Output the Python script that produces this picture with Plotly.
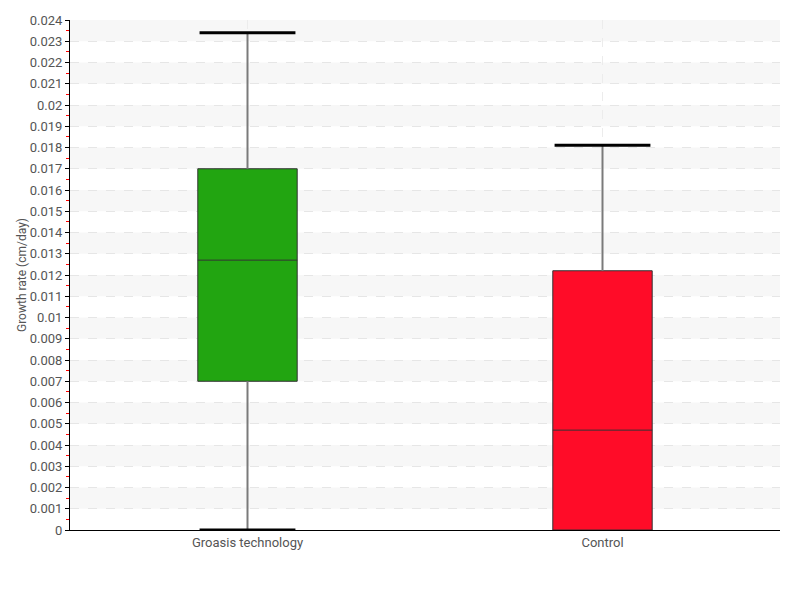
import plotly.graph_objects as go

categories = ["Groasis technology", "Control"]
mins = [0.0, 0.0]
q1s = [0.0070, 0.0]
medians = [0.0127, 0.0047]
q3s = [0.0170, 0.0122]
maxs = [0.0234, 0.0181]
colors = ["#22a511", "#ff0c28"]
y_ticks = [round(i * 0.001, 3) for i in range(25)]
y_ticktext = [("%g" % v) for v in y_ticks]

FONT = "Roboto, Liberation Sans, sans-serif"
box_w = 0.28
cap_half = 0.135

fig = go.Figure()

# whiskers and caps
for i in range(len(categories)):
    fig.add_trace(go.Scatter(x=[i, i], y=[q3s[i], maxs[i]], mode="lines",
                             line=dict(color="#7a7a7a", width=2), showlegend=False, hoverinfo="skip"))
    fig.add_trace(go.Scatter(x=[i - cap_half, i + cap_half], y=[maxs[i], maxs[i]], mode="lines",
                             line=dict(color="black", width=3), showlegend=False, hoverinfo="skip"))
    if mins[i] < q1s[i]:
        fig.add_trace(go.Scatter(x=[i, i], y=[mins[i], q1s[i]], mode="lines",
                                 line=dict(color="#7a7a7a", width=2), showlegend=False, hoverinfo="skip"))
        fig.add_trace(go.Scatter(x=[i - cap_half, i + cap_half], y=[mins[i], mins[i]], mode="lines",
                                 line=dict(color="black", width=3), showlegend=False, hoverinfo="skip"))

for i, c in enumerate(categories):
    fig.add_trace(go.Box(
        x=[i], q1=[q1s[i]], median=[medians[i]], q3=[q3s[i]],
        lowerfence=[q1s[i]], upperfence=[q3s[i]],
        width=box_w, whiskerwidth=0,
        fillcolor=colors[i], line=dict(color="#333333", width=1),
        name=c, showlegend=False, boxpoints=False,
    ))

# alternating bands
shapes = []
for k in range(1, len(y_ticks) - 1, 2):
    shapes.append(dict(type="rect", xref="paper", yref="y", x0=0, x1=1,
                       y0=y_ticks[k], y1=y_ticks[k + 1], fillcolor="#f7f7f7",
                       line=dict(width=0), layer="below"))

fig.update_layout(
    width=800, height=600,
    margin=dict(l=62, r=28, t=12, b=78, autoexpand=False),
    plot_bgcolor="white", paper_bgcolor="white",
    font=dict(family=FONT, size=13, color="#555555"),
    shapes=shapes,
    xaxis=dict(
        range=[-0.5, 1.5], tickvals=list(range(len(categories))), ticktext=categories,
        showline=True, linecolor="black", linewidth=1, ticks="",
        showgrid=True, gridcolor="#ececec", griddash="dash", gridwidth=1,
        zeroline=False, automargin=False, tickfont=dict(size=13, color="#555555"),
    ),
    yaxis=dict(
        range=[0, 0.024], tickvals=y_ticks, ticktext=y_ticktext,
        showline=True, linecolor="black", linewidth=1,
        ticks="outside", ticklen=4, tickcolor="black",
        showgrid=True, gridcolor="#e6e6e6", griddash="dash", gridwidth=1,
        zeroline=False, automargin=False,
        minor=dict(tickvals=[round(v + 0.0005, 4) for v in y_ticks[:-1]], ticks="outside", ticklen=3, tickcolor="red", showgrid=False),
        title=dict(text="Growth rate (cm/day)", font=dict(size=12, color="#555555"), standoff=0),
        tickfont=dict(size=13, color="#555555"),
    ),
)

fig.write_html("out.html")
